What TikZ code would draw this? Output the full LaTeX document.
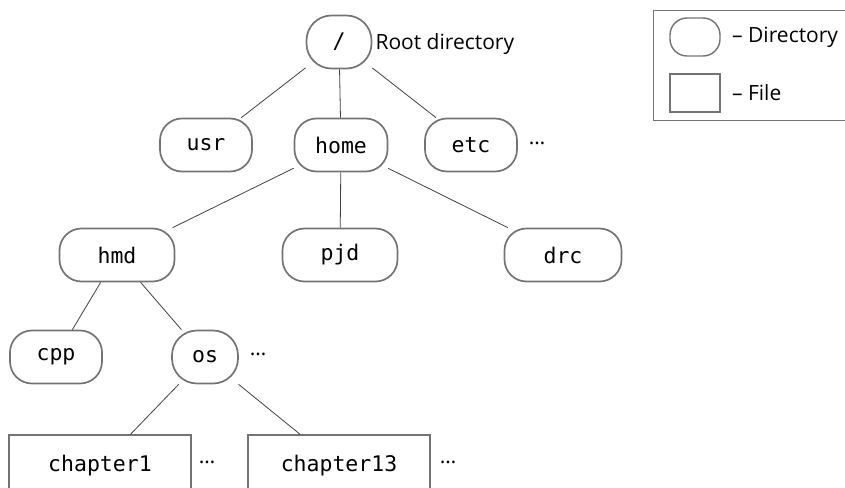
\documentclass[tikz,border=0pt]{standalone}
\usepackage{fontspec}
\setmainfont{Open Sans}
\newfontfamily\dirmono{DejaVu Sans Mono}
\usetikzlibrary{positioning}
\definecolor{TreeLine}{gray}{0.25}
\definecolor{TreeEdge}{gray}{0.45}

\begin{document}
\begin{tikzpicture}[x=1pt,y=-1pt,
  dir/.style={draw=TreeEdge,line width=1.7pt,rounded corners=22pt,minimum height=53pt,font=\dirmono\fontsize{21.5}{25}\selectfont},
  file/.style={draw=TreeEdge,line width=1.2pt,minimum height=62pt,minimum width=182pt,font=\dirmono\fontsize{21.5}{25}\selectfont},
  link/.style={draw=TreeLine,line width=0.8pt},
  note/.style={font=\fontsize{21}{25}\selectfont}]
\path[use as bounding box,clip] (0,0) rectangle (845,487);
% tree
\node[dir,minimum width=65pt,rounded corners=25pt] (root) at (339,42) {/};
\node[note,right] (rootlbl) at (372,44) {Root directory};
\node[dir,minimum width=92pt] (usr) at (206,145) {usr};
\node[dir,minimum width=93pt] (home) at (341,145) {home};
\node[dir,minimum width=92pt] (etc) at (471,145) {etc};
\node[note] (etcdots) at (537,143) {\dots};
\node[dir,minimum width=115pt] (hmd) at (117,255) {hmd};
\node[dir,minimum width=115pt] (pjd) at (340,255) {pjd};
\node[dir,minimum width=117pt] (drc) at (563,255) {drc};
\node[dir,minimum width=92pt] (cpp) at (56,357) {cpp};
\node[dir,minimum width=66pt,rounded corners=25pt] (os) at (205,357) {os};
\node[note] (osdots) at (258,354) {\dots};
\node[file] (ch1) at (100,466) {chapter1};
\node[note] (ch1dots) at (207,462) {\dots};
\node[file] (ch13) at (339,466) {chapter13};
\node[note] (ch13dots) at (448,462) {\dots};
\draw[link] (root) -- (usr);
\draw[link] (root) -- (home);
\draw[link] (root) -- (etc);
\draw[link] (home) -- (hmd);
\draw[link] (home) -- (pjd);
\draw[link] (home) -- (drc);
\draw[link] (hmd) -- (cpp);
\draw[link] (hmd) -- (os);
\draw[link] (os) -- (ch1);
\draw[link] (os) -- (ch13);
% legend
\draw[draw=TreeEdge,line width=1pt] (900,11) -- (653,11) -- (653,120) -- (900,120);
\node[draw=TreeEdge,line width=1.4pt,rounded corners=17pt,minimum width=50pt,minimum height=38pt] (keydir) at (695,37) {};
\node[note,right=8pt of keydir] (keydirlbl) {– Directory};
\node[draw=TreeEdge,line width=1.2pt,minimum width=50pt,minimum height=38pt] (keyfile) at (695,93) {};
\node[note,right=8pt of keyfile] (keyfilelbl) {– File};
\end{tikzpicture}
\end{document}
